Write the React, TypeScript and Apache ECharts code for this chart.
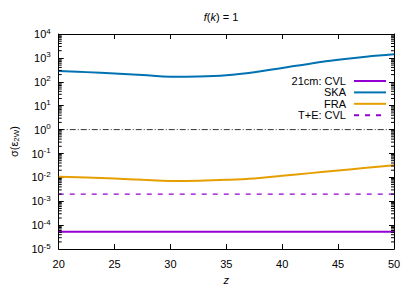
import React, { useEffect, useRef } from "react";
import * as echarts from "echarts";

// ---- data ----
const zValues = [20, 22.5, 25, 27.5, 30, 32.5, 35, 37.5, 40, 42.5, 45, 47.5, 50];
const skaValues = [282, 254, 224, 192, 163, 167, 188, 251, 380, 575, 832, 1122, 1413];
const fraValues = [0.0107, 0.0098, 0.0089, 0.0079, 0.00715, 0.0073, 0.0079, 0.0091, 0.0117, 0.0151, 0.0195, 0.0251, 0.0324];
const cvl21Value = 5.3e-5;
const teCvlValue = 2.0e-3;
const referenceValue = 1;
const zRange = [20, 50];
const yDecadeRange = [-5, 4];
const seriesNames = ["21cm: CVL", "SKA", "FRA", "T+E: CVL"];

const FONT = "'Liberation Sans', Arial, Helvetica, sans-serif";

const minorTicks: number[] = [];
for (let n = yDecadeRange[0]; n < yDecadeRange[1]; n++) {
  for (let k = 2; k <= 9; k++) minorTicks.push(k * Math.pow(10, n));
}

export default function App() {
  const ref = useRef<HTMLDivElement>(null);
  useEffect(() => {
    document.body.style.margin = "0";
    const chart = echarts.init(ref.current!, undefined, { renderer: "svg" });
    const flat = (v: number) => zRange.map((z) => [z, v]);
    const option: any = {
      animation: false,
      backgroundColor: "#fff",
      textStyle: { fontFamily: FONT },
      grid: { left: 49, right: 21, top: 34, bottom: 37 },
      graphic: [
        {
          type: "text",
          x: 221,
          y: 17,
          style: {
            text: "{i|f}{n|(}{i|k}{n|) = 1}",
            align: "center",
            verticalAlign: "middle",
            fontSize: 11,
            fontFamily: FONT,
            fill: "#000",
            rich: {
              i: { fontStyle: "italic", fontSize: 11, fontFamily: FONT, fill: "#000" },
              n: { fontSize: 11, fontFamily: FONT, fill: "#000" },
            },
          },
        },
      ],
      legend: {
        data: seriesNames,
        orient: "vertical",
        right: 28,
        top: 75.5,
        padding: 0,
        align: "right",
        itemWidth: 32,
        itemHeight: 10,
        itemGap: 0.4,
        itemStyle: { opacity: 0 },
        textStyle: { fontSize: 11, lineHeight: 11, color: "#000", fontFamily: FONT, padding: [0, 3, 0, 0] },
      },
      xAxis: [
        {
          type: "value",
          min: zRange[0],
          max: zRange[1],
          interval: 5,
          position: "bottom",
          axisLine: { show: true, lineStyle: { color: "#000", width: 1 } },
          axisTick: { show: true, inside: true, length: 5, lineStyle: { color: "#000" } },
          axisLabel: { margin: 9, fontSize: 11, color: "#000", fontFamily: FONT },
          splitLine: { show: false },
          name: "z",
          nameLocation: "middle",
          nameGap: 22,
          nameTextStyle: { fontStyle: "italic", fontSize: 11, color: "#000", fontFamily: FONT },
        },
        {
          type: "value",
          min: zRange[0],
          max: zRange[1],
          interval: 5,
          position: "top",
          axisLine: { show: true, lineStyle: { color: "#000", width: 1 } },
          axisTick: { show: true, inside: true, length: 5, lineStyle: { color: "#000" } },
          axisLabel: { show: false },
          splitLine: { show: false },
        },
      ],
      yAxis: [
        {
          type: "log",
          logBase: 10,
          min: Math.pow(10, yDecadeRange[0]),
          max: Math.pow(10, yDecadeRange[1]),
          interval: 1,
          splitNumber: 9,
          position: "left",
          axisLine: { show: true, lineStyle: { color: "#000", width: 1 } },
          axisTick: { show: true, inside: true, length: 5, lineStyle: { color: "#000" } },
          splitLine: { show: false },
          axisLabel: {
            margin: 8,
            formatter: (v: number) => `{b|10}{s|${Math.round(Math.log10(v))}}`,
            rich: {
              b: { fontSize: 11, color: "#000", fontFamily: FONT, lineHeight: 14 },
              s: { fontSize: 8, color: "#000", fontFamily: FONT, verticalAlign: "top", lineHeight: 8 },
            },
          },
          name: "{t|σ(ε}{u|2W}{t|)}",
          nameLocation: "middle",
          nameRotate: 90,
          nameGap: 32,
          nameTextStyle: {
            rich: {
              t: { fontSize: 11, color: "#000", fontFamily: FONT, lineHeight: 14 },
              u: { fontSize: 8, color: "#000", fontFamily: FONT, verticalAlign: "bottom", lineHeight: 8 },
            },
          },
        },
        {
          type: "log",
          logBase: 10,
          min: Math.pow(10, yDecadeRange[0]),
          max: Math.pow(10, yDecadeRange[1]),
          interval: 1,
          splitNumber: 9,
          position: "right",
          axisLine: { show: true, lineStyle: { color: "#000", width: 1 } },
          axisTick: { show: true, inside: true, length: 5, lineStyle: { color: "#000" } },
          splitLine: { show: false },
          axisLabel: { show: false },
        },
      ],
      series: [
        {
          name: "minor ticks",
          type: "custom",
          silent: true,
          clip: false,
          z: 5,
          data: minorTicks.map((v) => [zRange[0], v]),
          renderItem: (params: any, api: any) => {
            const cs = params.coordSys;
            const y = api.coord([zRange[0], api.value(1)])[1];
            const st = { stroke: "#000", lineWidth: 1 };
            return {
              type: "group",
              children: [
                { type: "line", shape: { x1: cs.x, y1: y, x2: cs.x + 3, y2: y }, style: st },
                { type: "line", shape: { x1: cs.x + cs.width - 3, y1: y, x2: cs.x + cs.width, y2: y }, style: st },
              ],
            };
          },
        },
        {
          name: "reference",
          type: "line",
          data: flat(referenceValue),
          symbol: "none",
          lineStyle: { color: "#000", width: 0.8, type: [6, 2, 1, 2] },
          z: 2,
        },
        {
          name: seriesNames[0],
          type: "line",
          data: flat(cvl21Value),
          symbol: "none",
          color: "#9400d3",
          lineStyle: { color: "#9400d3", width: 2 },
        },
        {
          name: seriesNames[1],
          type: "line",
          data: zValues.map((z, i) => [z, skaValues[i]]),
          smooth: 0.4,
          symbol: "none",
          color: "#0072b2",
          lineStyle: { color: "#0072b2", width: 2 },
        },
        {
          name: seriesNames[2],
          type: "line",
          data: zValues.map((z, i) => [z, fraValues[i]]),
          smooth: 0.4,
          symbol: "none",
          color: "#e69f00",
          lineStyle: { color: "#e69f00", width: 2 },
        },
        {
          name: seriesNames[3],
          type: "line",
          data: flat(teCvlValue),
          symbol: "none",
          color: "#9400d3",
          lineStyle: { color: "#9400d3", width: 1.2, type: [5, 6] },
        },
      ],
    };
    chart.setOption(option);
    return () => chart.dispose();
  }, []);
  return (
    <div
      ref={ref}
      style={{ position: "fixed", left: 0, top: 0, width: 415, height: 290 }}
    />
  );
}
